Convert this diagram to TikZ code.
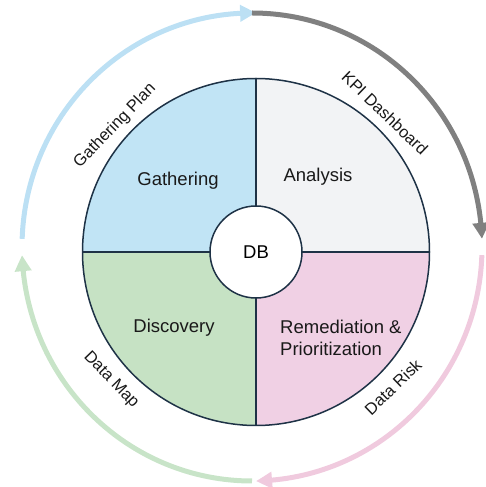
\documentclass[tikz,border=0pt]{standalone}
\usepackage{fontspec}
\setmainfont{Liberation Sans}
\usetikzlibrary{arrows.meta,bending}

\definecolor{edge}{RGB}{30,50,70}
\definecolor{gatherfill}{RGB}{193,228,245}
\definecolor{analysisfill}{RGB}{242,243,245}
\definecolor{discoveryfill}{RGB}{198,226,196}
\definecolor{remedfill}{RGB}{240,208,228}
\definecolor{arcblue}{RGB}{188,224,244}
\definecolor{arcgray}{RGB}{128,128,128}
\definecolor{arcpink}{RGB}{240,202,222}
\definecolor{arcgreen}{RGB}{200,228,200}

\begin{document}
\begin{tikzpicture}[x=1pt,y=1pt,
  cyclearc/.style={line width=5pt,
    -{Triangle[length=16pt,width=16pt,bend]}},
  quadlabel/.style={font=\fontsize{18.5}{22}\selectfont, text=black!90, inner sep=0pt},
  ringlabel/.style={font=\fontsize{16.5}{20}\selectfont, text=black!90, inner sep=0pt},
  hub/.style={circle, draw=edge, line width=1.5pt, fill=white,
    minimum size=92pt, inner sep=0pt, font=\fontsize{18.5}{22}\selectfont}
]
\useasboundingbox (0,0) rectangle (486,487);

\coordinate (c) at (256,235);
\coordinate (oc) at (252,240);

% four quadrants of the wheel
\fill[gatherfill] (c) -- ++(180:173.5pt) arc[start angle=180,end angle=90,radius=173.5pt] -- cycle;
\fill[analysisfill] (c) -- ++(90:173.5pt) arc[start angle=90,end angle=0,radius=173.5pt] -- cycle;
\fill[remedfill] (c) -- ++(0:173.5pt) arc[start angle=0,end angle=-90,radius=173.5pt] -- cycle;
\fill[discoveryfill] (c) -- ++(-90:173.5pt) arc[start angle=-90,end angle=-180,radius=173.5pt] -- cycle;
\draw[edge, line width=1.5pt] (c) circle[radius=173.5pt];
\draw[edge, line width=1.5pt] ([xshift=-173.5pt]c) -- ([xshift=173.5pt]c);
\draw[edge, line width=1.5pt] ([yshift=-173.5pt]c) -- ([yshift=173.5pt]c);

\node[hub] (db) at (c) {DB};

% quadrant titles
\node[quadlabel] (gathering) at (178,306) {Gathering};
\node[quadlabel] (analysis) at (318,310) {Analysis};
\node[quadlabel] (discovery) at (174,159) {Discovery};
\node[quadlabel, anchor=west, align=left] (remed) at (280,149) {Remediation \&\\Prioritization};

% outer cycle arrows
\begin{scope}[shift={(oc)}]
  \draw[cyclearc, arcblue] (178:230pt and 234pt) arc[start angle=178,end angle=89,x radius=230pt,y radius=234pt];
  \draw[cyclearc, arcgray] (90:230pt and 234pt) arc[start angle=90,end angle=2,x radius=230pt,y radius=234pt];
  \draw[cyclearc, arcpink] (-2:230pt and 234pt) arc[start angle=-2,end angle=-89,x radius=230pt,y radius=234pt];
  \draw[cyclearc, arcgreen] (-90:230pt and 234pt) arc[start angle=-90,end angle=-178,x radius=230pt,y radius=234pt];
\end{scope}

% ring labels
\node[ringlabel, rotate=46] (plan) at (115,361) {Gathering Plan};
\node[ringlabel, rotate=-44] (kpi) at (385,374) {KPI Dashboard};
\node[ringlabel, rotate=-46] (map) at (111,107) {Data Map};
\node[ringlabel, rotate=44] (risk) at (393,100) {Data Risk};
\end{tikzpicture}
\end{document}
